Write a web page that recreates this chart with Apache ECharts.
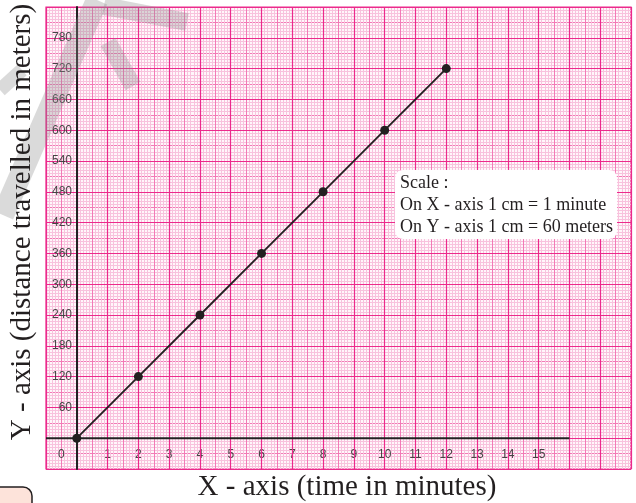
<!DOCTYPE html>
<html>
<head>
<meta charset="utf-8">
<script src="https://cdn.jsdelivr.net/npm/echarts@6/dist/echarts.min.js"></script>
<style>
html,body{margin:0;padding:0;background:#fff;}
#chart{width:636px;height:503px;}
</style>
</head>
<body>
<div id="chart"></div>
<script>
// ---- data ----
const timeMinutes = [0, 2, 4, 6, 8, 10, 12];
const distanceMeters = [0, 120, 240, 360, 480, 600, 720];
const xTickLabels = ['1','2','3','4','5','6','7','8','9','10','11','12','13','14','15'];
const yTickLabels = ['60','120','180','240','300','360','420','480','540','600','660','720','780'];
const xOriginLabel = '0';
const xAxisLineSpan = [-1, 16];
const xRange = [-1, 18];
const yRange = [-60, 840];
const xTitle = 'X - axis (time in minutes)';
const yTitle = 'Y - axis (distance travelled in meters)';
const scaleLines = ['Scale :', 'On X - axis 1 cm = 1 minute', 'On Y - axis 1 cm = 60 meters'];

const MAJOR = '#ec2a8c', MEDIUM = '#f27ab6', FINE = '#f8c2dd';
const WM = 'rgba(140,140,140,0.32)';

const chart = echarts.init(document.getElementById('chart'));
const lineData = timeMinutes.map((t, i) => [t, distanceMeters[i]]);

const option = {
  animation: false,
  backgroundColor: '#ffffff',
  grid: {
    left: 46, top: 7, right: 5, bottom: 34,
    show: true, backgroundColor: '#fff6fa', borderColor: MAJOR, borderWidth: 1.2
  },
  xAxis: [
    {
      type: 'value', min: xRange[0], max: xRange[1], interval: 0.5, z: 0,
      axisLine: { show: false, onZero: false },
      axisTick: { show: false },
      splitLine: { show: true, lineStyle: { color: MEDIUM, width: 1 } },
      minorTick: { show: false, splitNumber: 5 },
      minorSplitLine: { show: true, lineStyle: { color: FINE, width: 1 } },
      axisLabel: {
        inside: true, margin: 8, color: '#444', fontSize: 12,
        fontFamily: 'Liberation Sans, Arial, sans-serif',
        showMinLabel: true, showMaxLabel: true,
        formatter: function (v) {
          if (Math.abs(v + 0.5) < 1e-9) return xOriginLabel;
          if (Number.isInteger(v) && v >= 1 && v <= xTickLabels.length) return xTickLabels[v - 1];
          return '';
        }
      }
    },
    {
      type: 'value', min: xRange[0], max: xRange[1], interval: 1, z: 1,
      position: 'bottom',
      axisLine: { show: false, onZero: false },
      axisTick: { show: false },
      axisLabel: { show: false },
      splitLine: { show: true, lineStyle: { color: MAJOR, width: 1.2 } }
    }
  ],
  yAxis: [
    {
      type: 'value', min: yRange[0], max: yRange[1], interval: 30, z: 0,
      axisLine: { show: false, onZero: false },
      axisTick: { show: false },
      axisLabel: { show: false },
      splitLine: { show: true, lineStyle: { color: MEDIUM, width: 1 } },
      minorTick: { show: false, splitNumber: 5 },
      minorSplitLine: { show: true, lineStyle: { color: FINE, width: 1 } }
    },
    {
      type: 'value', min: yRange[0], max: yRange[1], interval: 60, z: 1,
      position: 'left',
      axisLine: { show: true, onZero: true, lineStyle: { color: '#222', width: 2 } },
      axisTick: { show: false },
      splitLine: { show: true, lineStyle: { color: MAJOR, width: 1.2 } },
      axisLabel: {
        show: true, inside: true, align: 'right', margin: 26, color: '#444', fontSize: 12,
        fontFamily: 'Liberation Sans, Arial, sans-serif',
        formatter: function (v) {
          const idx = v / 60 - 1;
          return (idx >= 0 && idx < yTickLabels.length) ? yTickLabels[idx] : '';
        }
      }
    }
  ],
  graphic: [
    // watermark strokes
    { type: 'line', z: 50, shape: { x1: 97, y1: 0, x2: 3, y2: 215 }, style: { stroke: WM, lineWidth: 22 } },
    { type: 'line', z: 50, shape: { x1: 104, y1: 6, x2: 187, y2: 22 }, style: { stroke: WM, lineWidth: 18 } },
    { type: 'line', z: 50, shape: { x1: 108, y1: 42, x2: 133, y2: 86 }, style: { stroke: WM, lineWidth: 17 } },
    { type: 'line', z: 50, shape: { x1: 0, y1: 90, x2: 22, y2: 70 }, style: { stroke: WM, lineWidth: 14 } },
    // scale box
    { type: 'rect', z: 60, shape: { x: 395, y: 170, width: 222, height: 69, r: 8 }, style: { fill: '#ffffff' } },
    { type: 'text', z: 61, x: 400, y: 172, style: { text: scaleLines.join('\n'), font: '18px "Liberation Serif", "Times New Roman", serif', lineHeight: 22, fill: '#231f20' } },
    // axis titles
    { type: 'text', z: 61, x: 347, y: 487, style: { text: xTitle, font: '29px "Liberation Serif", "Times New Roman", serif', fill: '#231f20', align: 'center', verticalAlign: 'middle' } },
    { type: 'text', z: 61, x: 22, y: 222, rotation: Math.PI / 2, style: { text: yTitle, font: '29px "Liberation Serif", "Times New Roman", serif', fill: '#231f20', align: 'center', verticalAlign: 'middle' } },
    // corner box
    { type: 'rect', z: 60, shape: { x: -20, y: 487, width: 52, height: 40, r: 9 }, style: { fill: '#fde3da', stroke: '#231f20', lineWidth: 1.5 } }
  ],
  series: [
    {
      name: 'x-axis line', type: 'line', xAxisIndex: 0, yAxisIndex: 0,
      data: [[xAxisLineSpan[0], 0], [xAxisLineSpan[1], 0]],
      symbol: 'none', silent: true, z: 3,
      lineStyle: { color: '#222', width: 2 }
    },
    {
      name: 'distance', type: 'line', xAxisIndex: 0, yAxisIndex: 0,
      data: lineData, z: 5,
      symbol: 'circle', symbolSize: 9,
      itemStyle: { color: '#231f20' },
      lineStyle: { color: '#231f20', width: 1.8 }
    }
  ]
};
chart.setOption(option);
</script>
</body>
</html>
